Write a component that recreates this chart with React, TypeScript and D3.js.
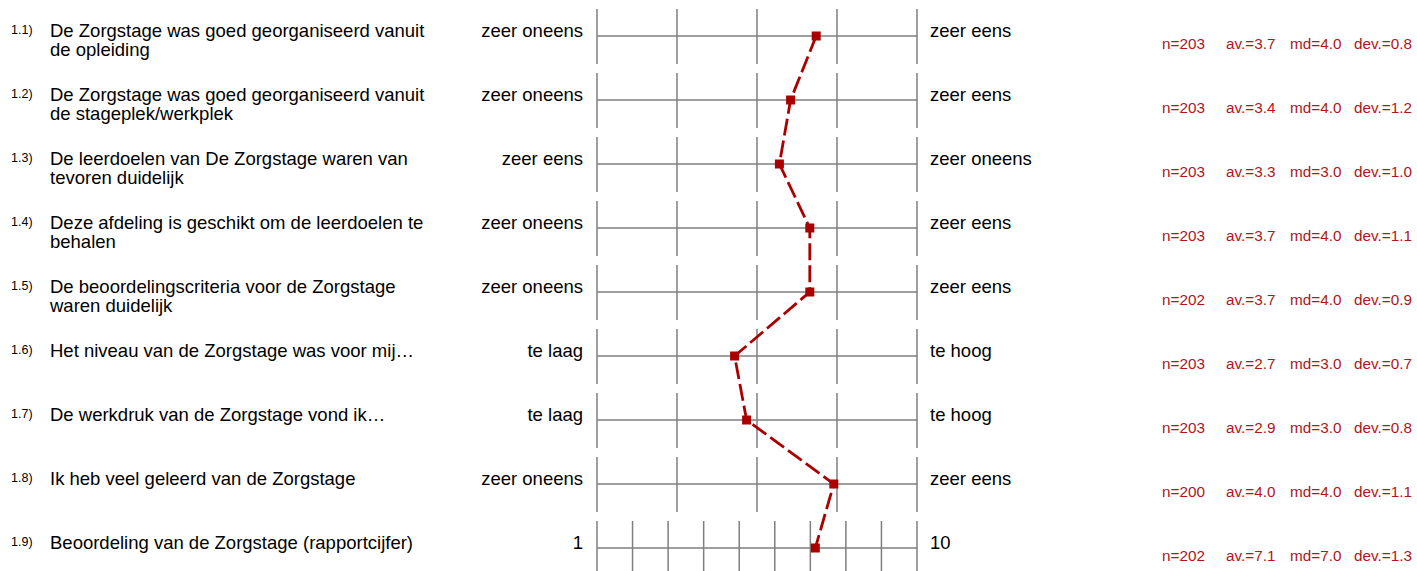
import React from "react";
import * as d3 from "d3";

const itemNumbers = ["1.1)", "1.2)", "1.3)", "1.4)", "1.5)", "1.6)", "1.7)", "1.8)", "1.9)"];
const questions: string[][] = [
  ["De Zorgstage was goed georganiseerd vanuit", "de opleiding"],
  ["De Zorgstage was goed georganiseerd vanuit", "de stageplek/werkplek"],
  ["De leerdoelen van De Zorgstage waren van", "tevoren duidelijk"],
  ["Deze afdeling is geschikt om de leerdoelen te", "behalen"],
  ["De beoordelingscriteria voor de Zorgstage", "waren duidelijk"],
  ["Het niveau van de Zorgstage was voor mij…"],
  ["De werkdruk van de Zorgstage vond ik…"],
  ["Ik heb veel geleerd van de Zorgstage"],
  ["Beoordeling van de Zorgstage (rapportcijfer)"],
];
const leftLabels = ["zeer oneens", "zeer oneens", "zeer eens", "zeer oneens", "zeer oneens", "te laag", "te laag", "zeer oneens", "1"];
const rightLabels = ["zeer eens", "zeer eens", "zeer oneens", "zeer eens", "zeer eens", "te hoog", "te hoog", "zeer eens", "10"];
const scaleMax = [5, 5, 5, 5, 5, 5, 5, 5, 10];
const nValues = [203, 203, 203, 203, 202, 203, 203, 200, 202];
// means (shown rounded to one decimal)
const avValues = [3.74, 3.42, 3.28, 3.66, 3.66, 2.72, 2.87, 3.96, 7.14];
const mdValues = [4.0, 4.0, 3.0, 4.0, 4.0, 3.0, 3.0, 4.0, 7.0];
const devValues = [0.8, 1.2, 1.0, 1.1, 0.9, 0.7, 0.8, 1.1, 1.3];

const W = 1417;
const H = 571;
const X0 = 597;
const X1 = 917;
const FONT = "'Liberation Sans', Arial, Helvetica, sans-serif";
const RED = "#aa0000";
const STAT_RED = "#b0161b";
const GRID = "#7f7f7f";

export default function App() {
  const rowY = d3
    .scaleLinear()
    .domain([0, itemNumbers.length - 1])
    .range([36, 36 + 64 * (itemNumbers.length - 1)]);

  const xScales = scaleMax.map((m) => d3.scaleLinear().domain([1, m]).range([X0, X1]));

  const points: [number, number][] = avValues.map((v, i) => [xScales[i](v), rowY(i)]);
  const linePath = d3.line()(points) || "";

  const f = (v: number) => (Math.round(v * 10) / 10).toFixed(1);

  return (
    <svg
      width={W}
      height={H}
      style={{ position: "absolute", left: 0, top: 0, background: "#fff" }}
      fontFamily={FONT}
    >
      {itemNumbers.map((num, i) => {
        const cy = rowY(i);
        const xs = xScales[i];
        const ticks = d3.range(1, scaleMax[i] + 1);
        return (
          <g key={num}>
            <text x={11} y={cy - 2} fontSize={12.5} fill="#000">
              {num}
            </text>
            {questions[i].map((line, j) => (
              <text key={j} x={50} y={cy + 1 + j * 19} fontSize={18.5} fill="#000">
                {line}
              </text>
            ))}
            <text x={583} y={cy + 1} fontSize={18.5} textAnchor="end" fill="#000">
              {leftLabels[i]}
            </text>
            <text x={930} y={cy + 1} fontSize={18.5} fill="#000">
              {rightLabels[i]}
            </text>
            <line x1={X0} x2={X1} y1={cy} y2={cy} stroke={GRID} strokeWidth={1.5} />
            {ticks.map((t) => (
              <line
                key={t}
                x1={xs(t)}
                x2={xs(t)}
                y1={cy - 27}
                y2={cy + 28}
                stroke={GRID}
                strokeWidth={1.5}
              />
            ))}
            <g fontSize={15.3} fill={STAT_RED}>
              <text x={1162} y={cy + 12.5}>{`n=${nValues[i]}`}</text>
              <text x={1226} y={cy + 12.5}>{`av.=${f(avValues[i])}`}</text>
              <text x={1290} y={cy + 12.5}>{`md=${f(mdValues[i])}`}</text>
              <text x={1354} y={cy + 12.5}>{`dev.=${f(devValues[i])}`}</text>
            </g>
          </g>
        );
      })}
      <path d={linePath} fill="none" stroke={RED} strokeWidth={2.8} strokeDasharray="17,5" />
      {points.map(([px, py], i) => (
        <rect key={i} x={px - 4.5} y={py - 4.5} width={9} height={9} fill={RED} />
      ))}
    </svg>
  );
}
